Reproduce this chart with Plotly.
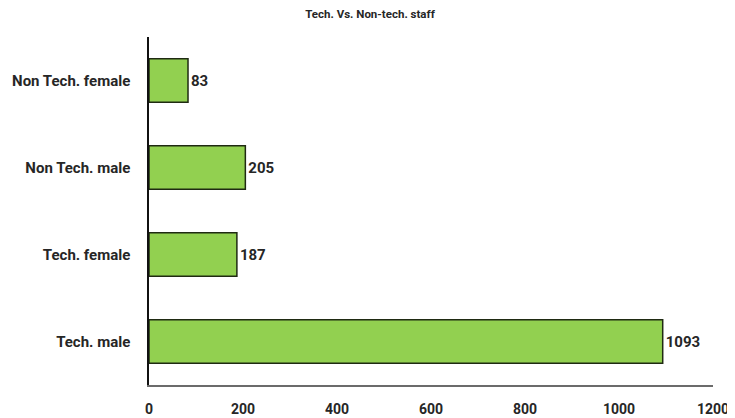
import plotly.graph_objects as go

categories = ["Tech. male", "Tech. female", "Non Tech. male", "Non Tech. female"]
counts = [1093, 187, 205, 83]
x_ticks = [0, 200, 400, 600, 800, 1000, 1200]

FONT = "Roboto"
INK = "#262626"

fig = go.Figure()
fig.add_trace(go.Bar(
    x=counts,
    y=categories,
    orientation="h",
    width=0.5,
    marker=dict(color="#92D050", line=dict(color="#1f2a12", width=1.5)),
    text=[str(v) for v in counts],
    textposition="outside",
    cliponaxis=False,
    textfont=dict(family=FONT, size=15, color=INK, weight="bold"),
))

fig.update_xaxes(
    range=[0, 1200],
    tickvals=x_ticks,
    ticktext=[str(t) for t in x_ticks],
    showgrid=False,
    zeroline=False,
    showline=True,
    linecolor="#6b6b6b",
    linewidth=2,
    ticks="",
    automargin=False,
    ticklabelstandoff=10,
    tickfont=dict(family=FONT, size=14, color=INK, weight="bold"),
)
fig.update_yaxes(
    showgrid=False,
    showline=True,
    linecolor="#111111",
    linewidth=1.5,
    ticks="",
    automargin=False,
    ticklabelstandoff=14,
    tickfont=dict(family=FONT, size=15, color=INK, weight="bold"),
)
fig.update_layout(
    title=dict(text="Tech. Vs. Non-tech. staff", x=0.4925, xanchor="center",
               y=0.985, yanchor="middle",
               font=dict(family=FONT, size=11.5, color=INK, weight="bold")),
    width=735,
    height=418,
    bargap=0.5,
    plot_bgcolor="white",
    paper_bgcolor="white",
    showlegend=False,
    margin=dict(l=141, r=30, t=29, b=41),
)

fig.write_html("out.html")
